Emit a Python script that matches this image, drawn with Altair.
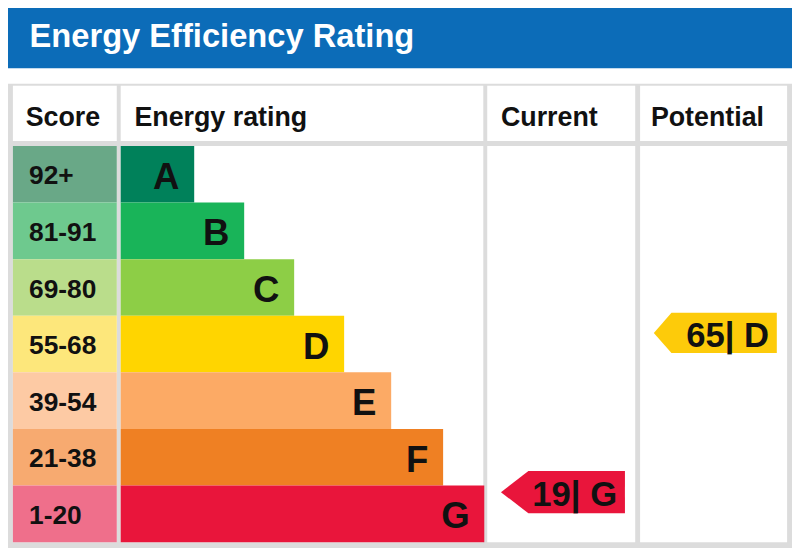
import altair as alt
import pandas as pd

# ---------------- data ----------------
title_text = "Energy Efficiency Rating"
headers = ["Score", "Energy rating", "Current", "Potential"]
ratings = ["A", "B", "C", "D", "E", "F", "G"]
score_ranges = ["92+", "81-91", "69-80", "55-68", "39-54", "21-38", "1-20"]
score_lo = [92, 81, 69, 55, 39, 21, 1]
score_hi = [100, 91, 80, 68, 54, 38, 20]
bar_lengths = [75, 126, 177, 228, 276, 329, 371]
bar_colors = ["#00815a", "#19b459", "#8dce46", "#ffd500", "#fcaa65", "#ef8023", "#e9153b"]
score_colors = ["#69a887", "#6ec98e", "#badd8b", "#fde77b", "#fdcaa4", "#f7aa70", "#ef6f8b"]
current_score = 19
current_rating = "G"
potential_score = 65
potential_rating = "D"

# ---------------- layout (reference px) ----------------
FONT = "Liberation Sans"
FS = 0.975
BLUE = "#0c6cb8"
GRID = "#dcdcdc"
TITLE_H = 62
TABLE_TOP = 78
HEAD_TOP, HEAD_BOT = 80, 137
BODY_TOP, BODY_BOT = 142, 550
ROW_H = (BODY_BOT - BODY_TOP) / len(ratings)
cols = [(5, 111), (115, 485), (489, 640), (645, 795)]
head_x = [18, 129, 503, 656]
BAR_X0 = cols[1][0]

XS = alt.Scale(domain=[0, 800], range=[0, 784], nice=False, zero=False)
YS = alt.Scale(domain=[0, 556], range=[0, 540], nice=False, zero=False)


def rect_layer(df):
    return alt.Chart(df).mark_rect(strokeWidth=0).encode(
        x=alt.X("x:Q", scale=XS, axis=None),
        x2="x2:Q",
        y=alt.Y("y:Q", scale=YS, axis=None),
        y2="y2:Q",
        color=alt.Color("c:N", scale=None),
    )


def text_layer(df, size, align="left", color="#111111"):
    return alt.Chart(df).mark_text(
        font=FONT, fontWeight="bold", fontSize=size * FS, align=align,
        baseline="alphabetic", color=color,
    ).encode(
        x=alt.X("x:Q", scale=XS, axis=None),
        y=alt.Y("y:Q", scale=YS, axis=None),
        text="t:N",
    )


# background pieces
bg = rect_layer(pd.DataFrame({
    "x": [0, 0], "x2": [800, 800], "y": [0, TABLE_TOP], "y2": [TITLE_H, 556],
    "c": [BLUE, GRID],
}))

cells = []
for i, (a, b) in enumerate(cols):
    cells.append({"x": a, "x2": b, "y": HEAD_TOP, "y2": HEAD_BOT, "c": "#ffffff"})
    cells.append({"x": a, "x2": b, "y": BODY_TOP, "y2": BODY_BOT, "c": "#ffffff"})
cell_layer = rect_layer(pd.DataFrame(cells))

tops = [BODY_TOP + i * ROW_H for i in range(len(ratings))]
bots = [t + ROW_H for t in tops]
centers = [(t + b) / 2 for t, b in zip(tops, bots)]

score_layer = rect_layer(pd.DataFrame({
    "x": [cols[0][0]] * 7, "x2": [cols[0][1]] * 7, "y": tops, "y2": bots, "c": score_colors,
}))
bar_layer = rect_layer(pd.DataFrame({
    "x": [BAR_X0] * 7, "x2": [BAR_X0 + L for L in bar_lengths], "y": tops, "y2": bots,
    "c": bar_colors,
}))

title_layer = text_layer(pd.DataFrame({"x": [22], "y": [40], "t": [title_text]}), 33.5,
                         color="#ffffff")
head_layer = text_layer(pd.DataFrame({"x": head_x, "y": [121] * 4, "t": headers}), 27.5)
score_txt = text_layer(pd.DataFrame({"x": [21.5] * 7, "y": [c + 10.5 for c in centers],
                                     "t": score_ranges}), 27)
letter_txt = text_layer(pd.DataFrame({"x": [BAR_X0 + L - 15 for L in bar_lengths],
                                      "y": [c + 15 for c in centers], "t": ratings}),
                        37.5, align="right")


def arrow_y(score):
    for i, (lo, hi) in enumerate(zip(score_lo, score_hi)):
        if lo <= score <= hi:
            return bots[i] - (score - lo) / (hi - lo + 1) * ROW_H + 1
    return centers[-1]


def arrow(col, score, rating, color, height, tip):
    left, right = col[0] + 14, col[1] - 10.5
    w = right - left
    cx = (left + right) / 2
    cy = arrow_y(score)
    hy = height / w
    bx = -1 + 2 * tip / w
    path = (f"M-1,0L{bx:.3f},{-hy:.3f}L1,{-hy:.3f}L1,{hy:.3f}L{bx:.3f},{hy:.3f}Z")
    size = (w * 0.98) ** 2
    shape = alt.Chart(pd.DataFrame({"x": [cx], "y": [cy]})).mark_point(
        shape=path, size=size, filled=True, opacity=1, color=color, strokeWidth=0,
    ).encode(
        x=alt.X("x:Q", scale=XS, axis=None),
        y=alt.Y("y:Q", scale=YS, axis=None),
    )
    txt = text_layer(pd.DataFrame({"x": [right - 8], "y": [cy + 14.5],
                                   "t": [f"{score}| {rating}"]}), 35.5, align="right")
    return shape + txt


cur = arrow(cols[2], current_score, current_rating, bar_colors[ratings.index(current_rating)], 43, 28)
pot = arrow(cols[3], potential_score, potential_rating, "#fdcb0a", 41, 18)

chart = alt.layer(
    bg, cell_layer, score_layer, bar_layer, title_layer, head_layer, score_txt, letter_txt,
    cur, pot,
).properties(
    width=784, height=540, autosize=alt.AutoSizeParams(type="none"), padding=0,
    background="#ffffff",
).configure_view(stroke=None)

chart.save("out.html", embed_options={"renderer": "svg", "actions": False})
